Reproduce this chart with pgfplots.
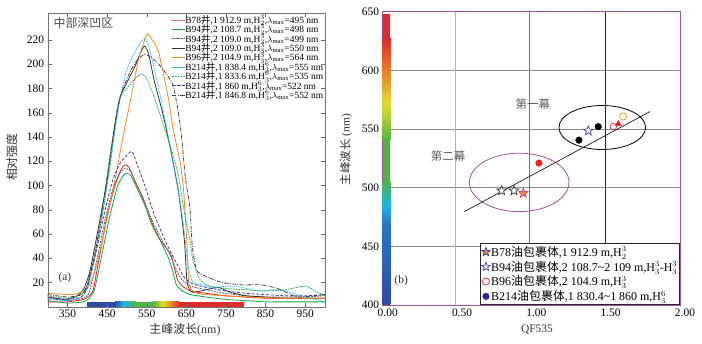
\documentclass[border=0pt]{standalone}
\usepackage{pgfplots}
\pgfplotsset{compat=1.18}
\usetikzlibrary{plotmarks}
\usepackage{fontspec}
\setmainfont{Liberation Serif}
\newfontfamily\cjk{Noto Sans CJK SC}
\newcommand{\cj}[1]{{\cjk #1}}
\definecolor{cred}{RGB}{235,35,35}
\definecolor{cgreen}{RGB}{20,165,75}
\definecolor{corange}{RGB}{250,135,35}
\definecolor{ccyan}{RGB}{30,185,240}
\definecolor{cgreendot}{RGB}{30,170,80}
\definecolor{cblue}{RGB}{60,60,170}
\definecolor{cnavy}{RGB}{40,40,140}
\definecolor{cpurple}{RGB}{165,80,155}
\definecolor{sb1}{RGB}{45,75,160}
\definecolor{sb2}{RGB}{40,120,200}
\definecolor{scyan}{RGB}{25,185,230}
\definecolor{sgreen}{RGB}{80,180,70}
\definecolor{syellow}{RGB}{230,220,40}
\definecolor{sorange}{RGB}{235,125,40}
\definecolor{sred}{RGB}{225,40,45}
\pgfdeclareplotmark{pstar}{%
  \pgfpathmoveto{\pgfpointpolar{90}{\pgfplotmarksize}}%
  \pgfpathlineto{\pgfpointpolar{126}{0.42\pgfplotmarksize}}%
  \pgfpathlineto{\pgfpointpolar{162}{\pgfplotmarksize}}%
  \pgfpathlineto{\pgfpointpolar{198}{0.42\pgfplotmarksize}}%
  \pgfpathlineto{\pgfpointpolar{234}{\pgfplotmarksize}}%
  \pgfpathlineto{\pgfpointpolar{270}{0.42\pgfplotmarksize}}%
  \pgfpathlineto{\pgfpointpolar{306}{\pgfplotmarksize}}%
  \pgfpathlineto{\pgfpointpolar{342}{0.42\pgfplotmarksize}}%
  \pgfpathlineto{\pgfpointpolar{18}{\pgfplotmarksize}}%
  \pgfpathlineto{\pgfpointpolar{54}{0.42\pgfplotmarksize}}%
  \pgfpathclose
  \pgfusepathqfillstroke
}
\begin{document}
\begin{tikzpicture}
\useasboundingbox (0,0) rectangle (702bp,344bp);
% ---------------- left panel ----------------
\begin{axis}[
  at={(47.7bp,37.3bp)}, anchor=south west, scale only axis,
  width=277.3bp, height=293.4bp,
  xmin=300, xmax=1000, ymin=0, ymax=242,
  xtick={350,450,...,950}, ytick={20,40,...,220},
  tick align=inside, major tick length=4bp,
  axis line style={black!55}, tick style={black!60},
  ticklabel style={font=\fontsize{11.5}{12}\selectfont},
  /pgf/number format/assume math mode=true,
  axis on top,
  xlabel={\cj{主峰波长}(nm)}, ylabel={\cj{相对强度}},
  label style={font=\fontsize{12}{12}\selectfont, black!80},
  xlabel style={at={(axis description cs:0.495,-0.079)}, anchor=center},
  ylabel style={at={(axis description cs:-0.129,0.51)}, anchor=center},
  legend cell align=left,
  legend style={at={(1,1)}, anchor=north east, draw=none, fill=none,
    font=\fontsize{9.5}{9.5}\selectfont, row sep=-1.6bp,
    nodes={inner sep=0.6bp}, inner sep=1bp},
  legend image code/.code={\draw[mark repeat=2,mark phase=2,#1] plot coordinates {(0bp,0bp) (6bp,0bp) (12bp,0bp)};},
  every axis plot/.append style={line width=0.8bp},
]
% colour bar of the spectrum
\fill[sb1] (axis cs:398,0) rectangle (axis cs:470,4.2);
\shade[left color=sb1, right color=scyan] (axis cs:470,0) rectangle (axis cs:491,4.2);
\shade[left color=scyan, right color=sgreen] (axis cs:491,0) rectangle (axis cs:522,4.2);
\fill[sgreen] (axis cs:522,0) rectangle (axis cs:565,4.2);
\shade[left color=sgreen, right color=syellow] (axis cs:565,0) rectangle (axis cs:591,4.2);
\shade[left color=syellow, right color=sorange] (axis cs:591,0) rectangle (axis cs:613,4.2);
\shade[left color=sorange, right color=sred] (axis cs:613,0) rectangle (axis cs:632,4.2);
\fill[sred] (axis cs:632,0) rectangle (axis cs:796,4.2);

\addplot[cred, smooth, tension=0.35] coordinates {(300,4) (350,4) (390,6) (405,9) (415,14) (430,40) (450,75) (470,100) (485,113) (495,117) (505,115) (520,104) (540,90) (560,70) (580,57) (600,48) (612,42) (620,32) (628,22) (640,17) (660,13) (700,11) (750,9) (800,8) (850,7) (900,7) (950,7) (1000,7)};
\addlegendentry{B78\cj{井},1 912.9 m,H$_2^3$,$\lambda_{\mathrm{max}}$=495 nm}
\addplot[cgreen, smooth, tension=0.35] coordinates {(300,5) (350,3) (390,4) (405,7) (418,14) (435,40) (455,72) (475,98) (490,108) (500,110) (510,108) (525,98) (545,84) (565,68) (585,54) (605,40) (615,30) (625,18) (640,13) (660,10) (700,8) (750,6) (800,5) (850,4) (900,4) (1000,4)};
\addlegendentry{B94\cj{井},2 108.7 m,H$_3^3$,$\lambda_{\mathrm{max}}$=498 nm}
\addplot[black!65, dash pattern=on 1.8bp off 1bp, smooth, tension=0.35] coordinates {(300,7) (350,5) (390,7) (405,12) (425,40) (445,72) (465,98) (482,110) (495,114) (508,112) (525,100) (545,86) (565,70) (590,54) (610,42) (625,30) (640,22) (660,17) (700,14) (750,11) (800,9) (850,8) (900,8) (950,8) (1000,9)};
\addlegendentry{B94\cj{井},2 109.0 m,H$_3^3$,$\lambda_{\mathrm{max}}$=499 nm}
\addplot[black!80, smooth, tension=0.35] coordinates {(300,8) (340,6) (370,8) (390,14) (407,30) (432,72) (450,105) (465,140) (482,172) (500,185) (520,198) (535,210) (545,215) (555,208) (570,185) (590,160) (610,130) (630,95) (645,55) (652,20) (665,12) (700,14) (730,16) (760,12) (800,9) (850,8) (900,7) (1000,7)};
\addlegendentry{B94\cj{井},2 109.0 m,H$_3^3$,$\lambda_{\mathrm{max}}$=550 nm}
\addplot[corange, smooth, tension=0.35] coordinates {(300,11) (360,10) (385,12) (400,15) (420,30) (445,65) (470,105) (490,140) (510,172) (530,205) (545,220) (552,225) (560,222) (580,210) (604,173) (617,146) (635,118) (643,96) (651,55) (656,20) (670,12) (700,10) (800,8) (900,7) (1000,7)};
\addlegendentry{B96\cj{井},2 104.9 m,H$_3^3$,$\lambda_{\mathrm{max}}$=564 nm}
\addplot[ccyan, dash pattern=on 1bp off 0.8bp, smooth, tension=0.35] coordinates {(300,6) (350,5) (385,8) (400,15) (415,35) (435,70) (455,110) (470,145) (485,175) (500,196) (520,210) (535,218) (545,221) (555,215) (570,195) (590,165) (610,130) (630,95) (642,69) (655,33) (667,20) (690,18) (720,16) (760,17) (790,16) (830,13) (870,14) (900,13) (940,9) (1000,4)};
\addlegendentry{B214\cj{井},1 838.4 m,H$_3^6$,$\lambda_{\mathrm{max}}$=555 nm}
\addplot[cgreendot, dash pattern=on 1.6bp off 1bp, smooth, tension=0.35] coordinates {(300,9) (350,7) (385,10) (400,18) (420,45) (440,80) (460,125) (475,160) (482,173) (500,180) (520,188) (537,192) (550,188) (570,172) (590,152) (613,129) (630,108) (645,78) (659,55) (667,38) (685,22) (710,17) (750,15) (800,14) (850,13) (900,14) (950,17) (980,12) (1000,9)};
\addlegendentry{B214\cj{井},1 833.6 m,H$_3^6$,$\lambda_{\mathrm{max}}$=535 nm}
\addplot[cblue, dash pattern=on 3bp off 1.8bp, smooth, tension=0.35] coordinates {(300,8) (350,6) (385,8) (400,16) (420,42) (445,80) (465,105) (482,118) (500,125) (513,128) (525,118) (545,100) (570,75) (600,52) (625,36) (645,24) (665,19) (700,16) (750,13) (800,11) (850,10) (900,9) (950,9) (1000,10)};
\addlegendentry{B214\cj{井},1 860 m,H$_3^6$,$\lambda_{\mathrm{max}}$=522 nm}
\addplot[black!75, dash pattern=on 4bp off 1.3bp on 1bp off 1.3bp, smooth, tension=0.35] coordinates {(300,10) (350,8) (385,10) (400,18) (420,45) (440,85) (460,130) (475,162) (490,180) (510,195) (530,205) (545,208) (560,206) (580,200) (600,192) (617,182) (630,160) (638,140) (648,105) (659,82) (665,50) (676,30) (700,25) (740,20) (790,18) (840,18) (880,15) (930,8) (970,9) (1000,10)};
\addlegendentry{B214\cj{井},1 846.8 m,H$_3^6$,$\lambda_{\mathrm{max}}$=552 nm}

\node[font=\fontsize{12}{12}\selectfont\cjk, black!70] at (axis description cs:0.129,0.967) {中部深凹区};
\node[font=\fontsize{11.5}{12}\selectfont, black!80] at (axis description cs:0.062,0.098) {(a)};
\end{axis}
% ---------------- right panel ----------------
\begin{axis}[
  at={(382.7bp,39bp)}, anchor=south west, scale only axis,
  width=297.3bp, height=293.3bp,
  xmin=0, xmax=2, ymin=400, ymax=650,
  xtick={0,0.5,...,2}, ytick={400,450,...,650},
  xticklabel={\pgfmathprintnumber[fixed,fixed zerofill,precision=2]{\tick}},
  xticklabel style={xshift=5bp},
  major tick length=0pt,
  axis line style={cpurple, line width=0.9bp},
  ticklabel style={font=\fontsize{11.5}{12}\selectfont},
  /pgf/number format/assume math mode=true,
  xlabel={QF535}, ylabel={\cj{主峰波长} (nm)},
  label style={font=\fontsize{11.5}{12}\selectfont, black!80},
  xlabel style={at={(axis description cs:0.519,-0.085)}, anchor=center},
  ylabel style={at={(axis description cs:-0.123,0.53)}, anchor=center},
  legend cell align=left,
  legend style={at={(1,0)}, anchor=south east, draw=black!85, fill=white,
    font=\fontsize{12}{12}\selectfont, row sep=1.2bp,
    nodes={inner sep=1bp}, inner sep=1.5bp, line width=0.6bp},
]
% grid lines
\draw[black!45, line width=0.6bp] (axis cs:0,450) -- (axis cs:2,450);
\draw[black!45, line width=0.6bp] (axis cs:0,500) -- (axis cs:2,500);
\draw[black!45, line width=0.6bp] (axis cs:0,550) -- (axis cs:2,550);
\draw[black!45, line width=0.6bp] (axis cs:0,600) -- (axis cs:2,600);
\draw[black!30, line width=0.8bp] (axis cs:0.49,400) -- (axis cs:0.49,650);
\draw[black!55, line width=0.8bp] (axis cs:0.99,400) -- (axis cs:0.99,650);
\draw[black!85, line width=0.6bp] (axis cs:1.5,400) -- (axis cs:1.5,650);
% colour bar
\shade[bottom color=sb1, top color=sb2] (axis cs:0,400) rectangle (axis cs:0.052,470);
\shade[bottom color=sb2, top color=scyan] (axis cs:0,470) rectangle (axis cs:0.052,485);
\shade[bottom color=scyan, top color=sgreen] (axis cs:0,485) rectangle (axis cs:0.052,505);
\fill[sgreen] (axis cs:0,505) rectangle (axis cs:0.052,540);
\shade[bottom color=sgreen, top color=syellow] (axis cs:0,540) rectangle (axis cs:0.052,572);
\shade[bottom color=syellow, top color=sorange] (axis cs:0,572) rectangle (axis cs:0.052,600);
\shade[bottom color=sorange, top color=sred] (axis cs:0,600) rectangle (axis cs:0.052,628);
\fill[sred] (axis cs:0,628) rectangle (axis cs:0.052,648);
% ellipses and trend line
\draw[black, line width=0.8bp] (axis cs:1.477,551.3) ellipse [x radius=43.3bp, y radius=22bp];
\draw[cpurple, line width=0.8bp] (axis cs:0.918,504.5) ellipse [x radius=49.8bp, y radius=29.2bp];
\addplot[black, line width=0.6bp, forget plot] coordinates {(0.549,479.6) (1.798,564.9)};
\node[font=\fontsize{11.5}{12}\selectfont\cjk, black!65] at (axis cs:1.01,571.5) {第一幕};
\node[font=\fontsize{11.5}{12}\selectfont\cjk, black!65] at (axis cs:0.44,526.5) {第二幕};
\node[font=\fontsize{11.5}{12}\selectfont, black!80] at (axis description cs:0.062,0.083) {(b)};
% points
\addplot[only marks, mark=pstar, mark size=5bp, mark options={fill=white, draw=black!80, line width=0.7bp}, forget plot] coordinates {(0.80,497.5) (0.883,497.5)};
\addplot[only marks, mark=pstar, mark size=5bp, mark options={fill=corange, draw=cpurple, line width=0.7bp}, forget plot] coordinates {(0.946,495.3)};
\addplot[only marks, mark=pstar, mark size=5bp, mark options={fill=white, draw=cblue, line width=0.7bp}, forget plot] coordinates {(1.383,548.5)};
\addplot[only marks, mark=*, mark size=3.3bp, mark options={fill=black, draw=black}, forget plot] coordinates {(1.32,540.5) (1.45,552)};
\addplot[only marks, mark=*, mark size=3.3bp, mark options={fill=cred, draw=cred}, forget plot] coordinates {(1.051,521)};
\addplot[only marks, mark=o, mark size=3.3bp, mark options={draw=cred, line width=0.7bp}, forget plot] coordinates {(1.551,552)};
\addplot[only marks, mark=triangle*, mark size=3.5bp, mark options={fill=cred, draw=cred}, forget plot] coordinates {(1.585,554.4)};
\addplot[only marks, mark=o, mark size=3.6bp, mark options={draw=corange, line width=0.7bp}, forget plot] coordinates {(1.618,560.7)};
% legend
\addlegendimage{only marks, mark=pstar, mark size=4.5bp, mark options={fill=corange, draw=cblue, line width=0.7bp}}
\addlegendentry{B78\cj{油包裹体},1 912.9 m,H$_2^3$}
\addlegendimage{only marks, mark=pstar, mark size=4.5bp, mark options={fill=white, draw=cblue, line width=0.7bp}}
\addlegendentry{B94\cj{油包裹体},2 108.7\textasciitilde 2 109 m,H$_3^3$-H$_3^3$}
\addlegendimage{only marks, mark=o, mark size=3.5bp, mark options={draw=cred, line width=0.7bp}}
\addlegendentry{B96\cj{油包裹体},2 104.9 m,H$_3^3$}
\addlegendimage{only marks, mark=*, mark size=3.2bp, mark options={fill=cnavy, draw=cnavy}}
\addlegendentry{B214\cj{油包裹体},1 830.4\textasciitilde 1 860 m,H$_3^6$}
\end{axis}
\end{tikzpicture}
\end{document}
